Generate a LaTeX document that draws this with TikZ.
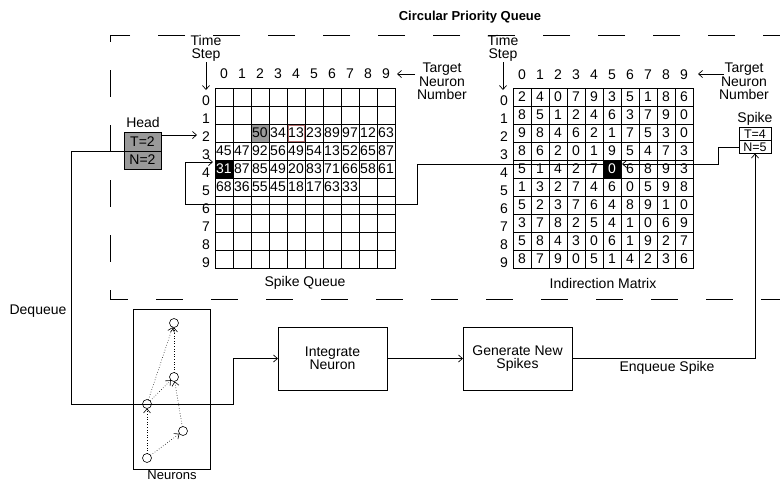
\documentclass[tikz,border=0pt]{standalone}
\usepackage{fontspec}
\setmainfont{Liberation Sans}
\usetikzlibrary{arrows.meta}
\definecolor{faintred}{RGB}{180,110,110}
\begin{document}
\begin{tikzpicture}[x=1pt,y=-1pt,
  every node/.style={font=\fontsize{14}{15}\selectfont, inner sep=0pt, outer sep=0pt},
  ln/.style={line width=0.7pt},
  arr/.style={ln,-{Straight Barb[length=4pt,width=7pt]}},
  darr/.style={line width=0.6pt, dotted, -{Straight Barb[length=4pt,width=7pt,line width=0.6pt]}},
  qcell/.style={draw, line width=0.7pt, minimum size=18pt},
  mcell/.style={draw, line width=0.9pt, minimum size=18pt},
  sbox/.style={draw, line width=0.7pt, minimum width=32pt, minimum height=13pt, font=\fontsize{12.5}{13}\selectfont},
  hbox/.style={draw, line width=0.7pt, fill=black!40, minimum width=37pt},
  pbox/.style={draw, line width=0.7pt, minimum width=109pt, minimum height=63pt, align=center, font=\fontsize{14}{13}\selectfont},
  neuron/.style={circle, draw, line width=0.6pt, minimum size=9pt},
  lbl/.style={align=center, font=\fontsize{14}{13.5}\selectfont}
]
\useasboundingbox (0,0) rectangle (780,483);

% title and dashed frame
\node[font=\bfseries\fontsize{13}{14}\selectfont] (title) at (470,17) {Circular Priority Queue};
\draw[ln, dash pattern=on 27pt off 28pt] (790,35) -- (110,35) -- (110,299) -- (790,299);

% ---------- Spike queue ----------
\foreach \r in {0,...,9}{
  \foreach \c in {0,...,9}{
    \node[qcell] (q-\r-\c) at ({215+18*\c+9},{88+18*\r+9}) {};
  }
  \node (qr-\r) at (206,{88+18*\r+13}) {\r};
  \node (qc-\r) at ({215+18*\r+9},74) {\r};
}
\node[qcell, fill=black!40] at (q-2-2) {};
\node[qcell, fill=black] at (q-4-0) {};
\foreach \v [count=\c from 2] in {50,34,13,23,89,97,12,63}{ \node at (q-2-\c) {\v}; }
\foreach \v [count=\c from 0] in {45,47,92,56,49,54,13,52,65,87}{ \node at (q-3-\c) {\v}; }
\foreach \v [count=\c from 1] in {87,85,49,20,83,71,66,58,61}{ \node at (q-4-\c) {\v}; }
\node[text=white] at (q-4-0) {31};
\foreach \v [count=\c from 0] in {68,36,55,45,18,17,63,33}{ \node at (q-5-\c) {\v}; }
\draw[line width=0.4pt, faintred] ([shift={(0.8,0.8)}]q-2-4.north west) rectangle ([shift={(-0.8,-0.8)}]q-2-4.south east);

\node[lbl] (ts1) at (206,48.5) {Time\\Step};
\coordinate (ts1e) at (206,90);
\draw[arr] (206,62) -- (ts1e);
\node[lbl] (tn1) at (442,81.5) {Target\\Neuron\\Number};
\coordinate (tn1s) at (415,74);
\coordinate (tn1e) at (397,74);
\draw[arr] (tn1s) -- (tn1e);
\node (sqlbl) at (305,283) {Spike Queue};

% ---------- Indirection matrix ----------
\def\mrows{{2,4,0,7,9,3,5,1,8,6},{8,5,1,2,4,6,3,7,9,0},{9,8,4,6,2,1,7,5,3,0},{8,6,2,0,1,9,5,4,7,3},{5,1,4,2,7,0,6,8,9,3},{1,3,2,7,4,6,0,5,9,8},{5,2,3,7,6,4,8,9,1,0},{3,7,8,2,5,4,1,0,6,9},{5,8,4,3,0,6,1,9,2,7},{8,7,9,0,5,1,4,2,3,6}}
\foreach \row [count=\r from 0] in \mrows {
  \foreach \v [count=\c from 0] in \row {
    \node[mcell] (m-\r-\c) at ({513+18*\c+9},{88+18*\r+9}) {\v};
  }
  \node (mr-\r) at (504,{88+18*\r+13}) {\r};
  \node (mc-\r) at ({513+18*\r+9},75) {\r};
}
\node[mcell, fill=black, text=white] at (m-4-5) {0};

\node[lbl] (ts2) at (503,48.5) {Time\\Step};
\coordinate (ts2e) at (503,90);
\draw[arr] (503,62) -- (ts2e);
\node[lbl] (tn2) at (744,81.5) {Target\\Neuron\\Number};
\coordinate (tn2s) at (724,74);
\coordinate (tn2e) at (698,74);
\draw[arr] (tn2s) -- (tn2e);
\node (imlbl) at (603,283) {Indirection Matrix};

% ---------- Head ----------
\node (headlbl) at (143,122) {Head};
\node[hbox, minimum height=19pt] (hT) at (142.5,141.5) {T=2};
\node[hbox, minimum height=18pt] (hN) at (142.5,160) {N=2};
\coordinate (h2) at (197,135);
\draw[arr] (hT.east |- h2) -- (h2);

% ---------- Spike ----------
\node (spklbl) at (755,119) {Spike};
\node[sbox] (sT) at (755,134) {T=4};
\node[sbox] (sN) at (755,147) {N=5};

% spike -> indirection matrix -> spike queue
\coordinate (mhit) at (622,164);
\draw[arr] (sN.west) -| (718,164) -- (mhit);
\coordinate (mout) at (603,164);
\coordinate (q31) at (213,162);
\draw[arr] (mout) -- (417,164) -- (417,204) -- (185,204) -- (185,162) -- (q31);

% ---------- Bottom pipeline ----------
\node[draw, line width=0.7pt, minimum width=77pt, minimum height=160pt] (nbox) at (171.5,389) {};
\node[anchor=north, font=\fontsize{13}{14}\selectfont] (nlbl) at (172,471) {Neurons};
\node[neuron] (nA) at (174,323) {};
\node[neuron] (nB) at (174,377) {};
\node[neuron] (nC) at (147,404) {};
\node[neuron] (nD) at (183,431) {};
\node[neuron] (nE) at (147,458) {};
\draw[darr] (nE) -- (nC);
\draw[darr] (nE) -- (nD);
\draw[darr] (nD) -- (nB);
\draw[darr] (nC) -- (nB);
\draw[darr] (nC) -- (nA);
\draw[darr] (nB) -- (nA);

\node[pbox] (integ) at (332.5,358.5) {Integrate\\Neuron};
\node[pbox] (gen) at (517.5,358.5) {Generate New\\Spikes};

\node (deq) at (38,311) {Dequeue};
\draw[arr] (hT.south west) -| (71,404) -- (233,404) -- (233,358.5) -- (integ.west);
\draw[arr] (integ) -- (gen);
\draw[arr] (gen.east) -| (sN.south);
\node (enq) at (667,368) {Enqueue Spike};
\end{tikzpicture}
\end{document}
